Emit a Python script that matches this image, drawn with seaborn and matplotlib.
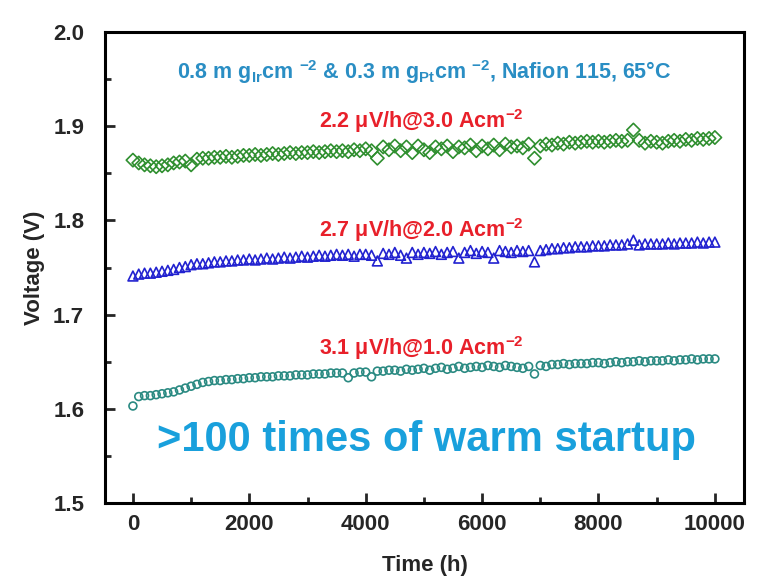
import numpy as np
import pandas as pd
import matplotlib
matplotlib.use("Agg")
import matplotlib.pyplot as plt
import seaborn as sns

# Operating time (h), one reading every 100 h
time_h = list(range(0, 10001, 100))

# Cell voltage at 3.0 A cm-2
v_3A = [
    1.864, 1.861, 1.859, 1.858, 1.857, 1.858, 1.859, 1.861, 1.862, 1.863,
    1.859, 1.865, 1.866, 1.866, 1.867, 1.867, 1.868, 1.867, 1.868, 1.869,
    1.869, 1.870, 1.869, 1.870, 1.871, 1.870, 1.871, 1.872, 1.871, 1.872,
    1.872, 1.873, 1.872, 1.873, 1.874, 1.873, 1.874, 1.873, 1.875, 1.874,
    1.876, 1.874, 1.866, 1.878, 1.875, 1.879, 1.874, 1.878, 1.872, 1.879,
    1.875, 1.872, 1.878, 1.876, 1.879, 1.873, 1.878, 1.877, 1.880, 1.874,
    1.879, 1.876, 1.880, 1.875, 1.881, 1.878, 1.879, 1.877, 1.881, 1.866,
    1.879, 1.881, 1.880, 1.882, 1.881, 1.883, 1.882, 1.883, 1.884, 1.883,
    1.884, 1.883, 1.884, 1.885, 1.884, 1.885, 1.896, 1.885, 1.882, 1.884,
    1.883, 1.882, 1.884, 1.885, 1.884, 1.886, 1.885, 1.887, 1.886, 1.887,
    1.888,
]

# Cell voltage at 2.0 A cm-2
v_2A = [
    1.741, 1.743, 1.744, 1.744, 1.745, 1.746, 1.747, 1.748, 1.750, 1.751,
    1.753, 1.754, 1.754, 1.755, 1.756, 1.756, 1.757, 1.757, 1.758, 1.758,
    1.759, 1.758, 1.759, 1.760, 1.759, 1.760, 1.761, 1.760, 1.761, 1.762,
    1.761, 1.762, 1.763, 1.762, 1.763, 1.764, 1.763, 1.764, 1.762, 1.764,
    1.764, 1.763, 1.757, 1.765, 1.764, 1.766, 1.763, 1.760, 1.766, 1.764,
    1.766, 1.765, 1.767, 1.764, 1.766, 1.767, 1.760, 1.766, 1.768, 1.765,
    1.767, 1.766, 1.760, 1.768, 1.767, 1.766, 1.768, 1.767, 1.768, 1.756,
    1.768, 1.769, 1.770, 1.770, 1.771, 1.771, 1.772, 1.772, 1.772, 1.773,
    1.773, 1.773, 1.774, 1.774, 1.774, 1.775, 1.779, 1.774, 1.775, 1.775,
    1.775, 1.775, 1.776, 1.775, 1.776, 1.776, 1.776, 1.777, 1.776, 1.777,
    1.777,
]

# Cell voltage at 1.0 A cm-2
v_1A = [
    1.603, 1.613, 1.614, 1.614, 1.615, 1.616, 1.617, 1.618, 1.620, 1.622,
    1.624, 1.626, 1.628, 1.629, 1.630, 1.630, 1.631, 1.631, 1.632, 1.632,
    1.633, 1.633, 1.634, 1.634, 1.634, 1.635, 1.635, 1.635, 1.636, 1.636,
    1.636, 1.637, 1.637, 1.637, 1.638, 1.638, 1.638, 1.633, 1.638, 1.639,
    1.639, 1.634, 1.640, 1.640, 1.641, 1.641, 1.640, 1.642, 1.641, 1.642,
    1.643, 1.641, 1.643, 1.644, 1.642, 1.643, 1.645, 1.643, 1.644, 1.645,
    1.644, 1.646, 1.645, 1.644, 1.646, 1.645, 1.644, 1.643, 1.645, 1.637,
    1.646, 1.645, 1.647, 1.647, 1.648, 1.647, 1.648, 1.648, 1.648, 1.649,
    1.649, 1.648, 1.649, 1.650, 1.649, 1.650, 1.650, 1.651, 1.650, 1.651,
    1.651, 1.651, 1.652, 1.651, 1.652, 1.652, 1.653, 1.652, 1.653, 1.653,
    1.653,
]

# Degradation-rate labels for each current density
rate_labels = [
    r"2.2 μV/h@3.0 Acm$^{\mathrm{-2}}$",
    r"2.7 μV/h@2.0 Acm$^{\mathrm{-2}}$",
    r"3.1 μV/h@1.0 Acm$^{\mathrm{-2}}$",
]
rate_label_y = [1.905, 1.790, 1.665]

header = (r"0.8 m g$_{Ir}$cm $^{\mathrm{-2}}$ & 0.3 m g$_{Pt}$cm $^{\mathrm{-2}}$, "
          r"Nafion 115, 65°C")
banner = ">100 times of warm startup"

x_ticks = [0, 2000, 4000, 6000, 8000, 10000]
y_ticks = [1.5, 1.6, 1.7, 1.8, 1.9, 2.0]

sns.set_theme(style="ticks")
plt.rcParams["font.family"] = ["Liberation Sans", "DejaVu Sans"]
plt.rcParams["font.weight"] = "bold"
plt.rcParams["mathtext.fontset"] = "custom"
plt.rcParams["mathtext.rm"] = "Liberation Sans:bold"
plt.rcParams["mathtext.it"] = "Liberation Sans:bold"
plt.rcParams["mathtext.bf"] = "Liberation Sans:bold"
plt.rcParams["mathtext.default"] = "rm"
plt.rcParams["axes.unicode_minus"] = False

fig = plt.figure(figsize=(7.58, 5.76), dpi=100)
ax = fig.add_axes([0.1385, 0.1267, 0.843, 0.8177])

series = [
    (v_3A, "D", "#2f8f2f", 46),
    (v_2A, "^", "#2222d0", 50),
    (v_1A, "o", "#2a8a82", 32),
]
for values, mk, col, size in series:
    df = pd.DataFrame({"Time (h)": time_h, "Voltage (V)": values})
    sns.scatterplot(data=df, x="Time (h)", y="Voltage (V)", ax=ax,
                    marker=mk, s=size, facecolor="none", edgecolor=col,
                    linewidth=1.2, legend=False)

ax.set_xlim(-480, 10500)
ax.set_ylim(1.5, 2.0)
ax.set_xticks(x_ticks)
ax.set_yticks(y_ticks)
ax.set_xticklabels([str(t) for t in x_ticks])
ax.set_yticklabels([f"{v:.1f}" for v in y_ticks])
ax.xaxis.set_minor_locator(matplotlib.ticker.MultipleLocator(1000))
ax.yaxis.set_minor_locator(matplotlib.ticker.MultipleLocator(0.05))
ax.tick_params(which="major", direction="in", length=7, width=2,
               labelsize=16, top=False, right=False)
ax.tick_params(axis="x", which="major", pad=8)
ax.tick_params(axis="y", which="major", pad=15)
ax.tick_params(which="minor", direction="in", length=4, width=2,
               top=False, right=False)
for lab in ax.get_xticklabels() + ax.get_yticklabels():
    lab.set_fontweight("bold")
for sp in ax.spines.values():
    sp.set_linewidth(2.2)
    sp.set_color("black")

ax.set_xlabel("Time (h)", fontsize=16, fontweight="bold", labelpad=14)
ax.set_ylabel("Voltage (V)", fontsize=16, fontweight="bold", labelpad=6)

ax.text(5000, 1.9575, header, ha="center", va="center", fontsize=15.5,
        fontweight="bold", color="#2a8ec4")
for lab, yv in zip(rate_labels, rate_label_y):
    ax.text(4950, yv, lab, ha="center", va="center", fontsize=15.5,
            fontweight="bold", color="#e8202a")
ax.text(5050, 1.567, banner, ha="center", va="center", fontsize=30,
        fontweight="bold", color="#19a0dc")

fig.savefig("out.png", dpi=100)
